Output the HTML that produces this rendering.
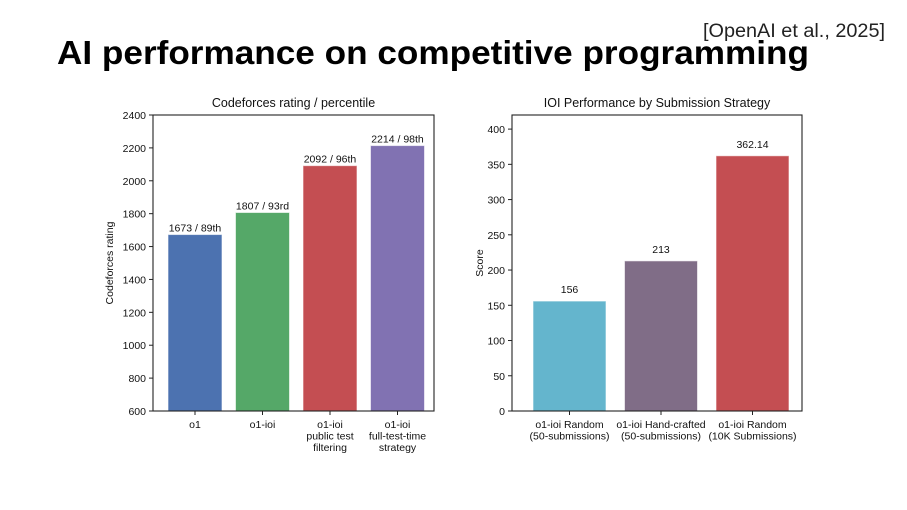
<!DOCTYPE html>
<html><head><meta charset="utf-8"><style>
body{margin:0;background:#fff;}
svg{display:block;font-family:"Liberation Sans",Arial,sans-serif;}
</style></head><body>
<svg id="s" width="907" height="510" viewBox="0 0 907 510">
<text x="703" y="37" font-size="19" fill="#222" textLength="182" lengthAdjust="spacingAndGlyphs">[OpenAI et al., 2025]</text>
<text x="57" y="64" font-size="33" font-weight="bold" fill="#000" textLength="752" lengthAdjust="spacingAndGlyphs">AI performance on competitive programming</text>
<g id="c1"></g>
<g id="c2"></g>
</svg>
<script>
const cfCategories=[["o1"],["o1-ioi"],["o1-ioi","public test","filtering"],["o1-ioi","full-test-time","strategy"]];
const cfValues=[1673,1807,2092,2214];
const cfLabels=["1673 / 89th","1807 / 93rd","2092 / 96th","2214 / 98th"];
const cfColors=["#4c72b0","#55a868","#c44e52","#8172b2"];
const cfTicks=[600,800,1000,1200,1400,1600,1800,2000,2200,2400];
const ioiCategories=[["o1-ioi Random","(50-submissions)"],["o1-ioi Hand-crafted","(50-submissions)"],["o1-ioi Random","(10K Submissions)"]];
const ioiValues=[156,213,362.14];
const ioiLabels=["156","213","362.14"];
const ioiColors=["#64b5cd","#806d87","#c44e52"];
const ioiTicks=[0,50,100,150,200,250,300,350,400];
const NS="http://www.w3.org/2000/svg";
function mk(p,t,a,txt){const e=document.createElementNS(NS,t);for(const k in a)e.setAttribute(k,a[k]);if(txt!=null)e.textContent=txt;p.appendChild(e);return e;}
function chart(g,o){
  const y=v=>o.y1-(v-o.ymin)/(o.ymax-o.ymin)*(o.y1-o.y0);
  const x=i=>o.xc0+i*o.step;
  let t=mk(g,'text',{x:(o.x0+o.x1)/2,y:o.y0-8,'text-anchor':'middle','font-size':12.5,fill:'#111'},o.title);
  
  
  t=mk(g,'text',{transform:`translate(${o.ylx},${(o.y0+o.y1)/2}) rotate(-90)`,'text-anchor':'middle','font-size':10.5,fill:'#111'},o.ylabel);
  
  
  o.vals.forEach((v,i)=>{
    const r=mk(g,'rect',{x:x(i)-o.bw/2,y:y(v),width:o.bw,height:y(o.ymin)-y(v),fill:o.colors[i],stroke:'#fff','stroke-opacity':0.6,'stroke-width':1});
    
    
    const l=mk(g,'text',{x:x(i),y:y(v)-o.lg,'text-anchor':'middle','font-size':10.5,fill:'#111'},o.labels[i]);
    
    
    mk(g,'line',{x1:x(i),x2:x(i),y1:o.y1,y2:o.y1+4,stroke:'#222'});
    o.cats[i].forEach((c,j)=>{
      const tl=mk(g,'text',{x:x(i),y:o.y1+17+j*11.5,'text-anchor':'middle','font-size':10.5,fill:'#111'},c);
      
      
    });
  });
  o.ticks.forEach(v=>{
    mk(g,'line',{x1:o.x0-4,x2:o.x0,y1:y(v),y2:y(v),stroke:'#222'});
    const tl=mk(g,'text',{x:o.x0-7,y:y(v)+4,'text-anchor':'end','font-size':10.5,fill:'#111'},String(v));
    
    
  });
  const f=mk(g,'rect',{x:o.x0,y:o.y0,width:o.x1-o.x0,height:o.y1-o.y0,fill:'none',stroke:'#222','stroke-width':1.1});
  
  
}
chart(document.getElementById('c1'),{title:'Codeforces rating / percentile',ylabel:'Codeforces rating',ylx:113,x0:153,x1:434,y0:115,y1:411,ymin:600,ymax:2400,xc0:195,step:67.5,bw:54,lg:3,vals:cfValues,labels:cfLabels,colors:cfColors,cats:cfCategories,ticks:cfTicks});
chart(document.getElementById('c2'),{title:'IOI Performance by Submission Strategy',ylabel:'Score',ylx:483,x0:512,x1:802,y0:115,y1:411,ymin:0,ymax:420,xc0:569.5,step:91.5,bw:73,lg:8,vals:ioiValues,labels:ioiLabels,colors:ioiColors,cats:ioiCategories,ticks:ioiTicks});
</script>
</body></html>
